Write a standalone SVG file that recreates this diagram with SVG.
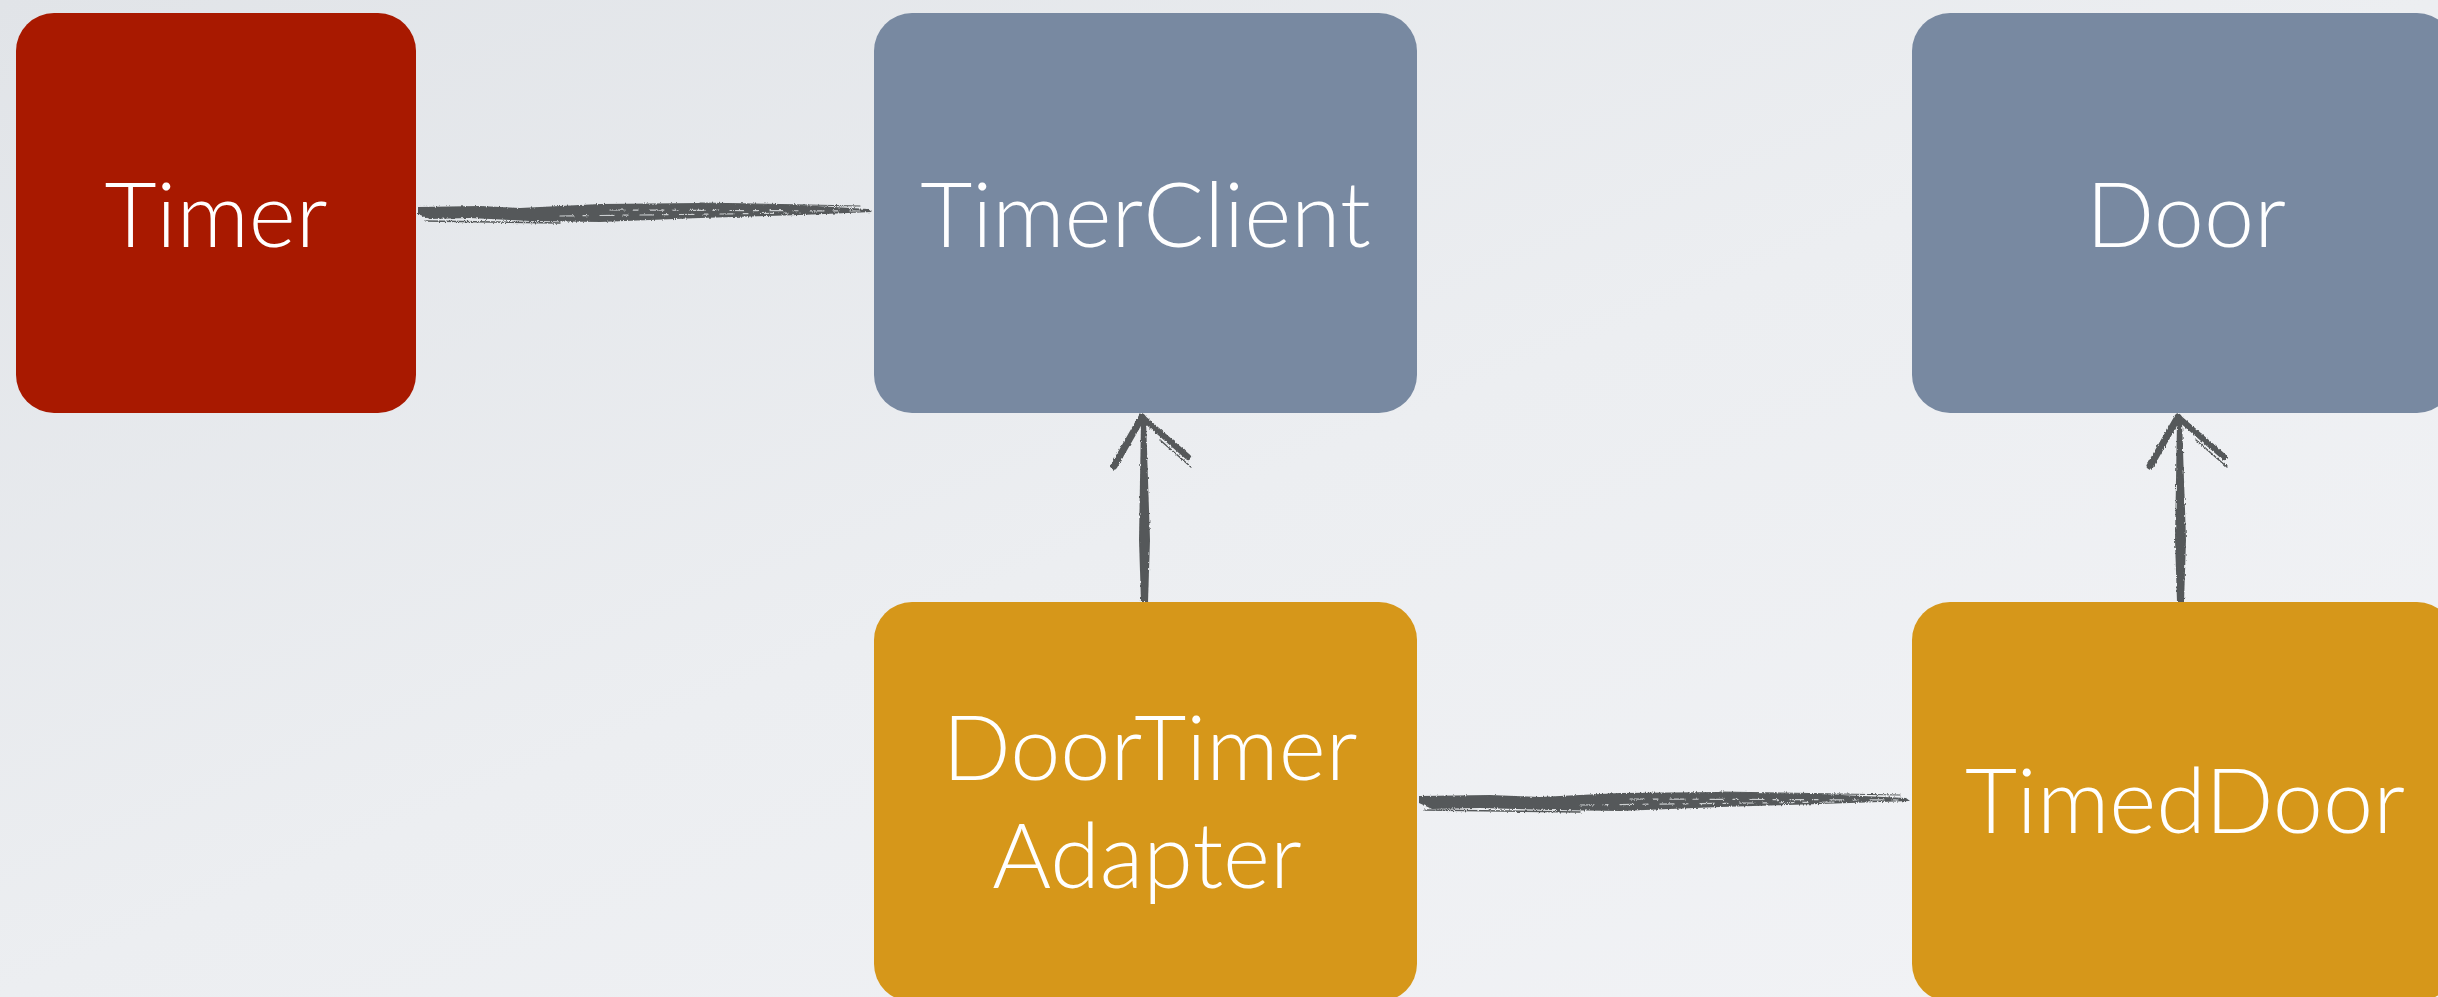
<svg xmlns="http://www.w3.org/2000/svg" width="2438" height="997" viewBox="0 0 2438 997">
  <defs>
    <linearGradient id="bg" x1="0" y1="0" x2="1" y2="1">
      <stop offset="0" stop-color="#e1e4e8"/>
      <stop offset="0.5" stop-color="#eceef1"/>
      <stop offset="1" stop-color="#f2f3f6"/>
    </linearGradient>
    <filter id="rough" x="-5%" y="-50%" width="110%" height="200%">
      <feTurbulence type="fractalNoise" baseFrequency="0.9 0.25" numOctaves="2" seed="3" result="n"/>
      <feDisplacementMap in="SourceGraphic" in2="n" scale="3" xChannelSelector="R" yChannelSelector="G"/>
    </filter>
    <style>
      .box-red { fill: #a81900; }
      .box-blue { fill: #7889a1; }
      .box-orange { fill: #d6971a; }
      .label { font-family: Lato, "Open Sans", "Liberation Sans", sans-serif; font-weight: 300; font-size: 90px; fill: #ffffff; text-anchor: middle; }
      .brush { fill: #55595a; }
      .streak { fill: none; stroke: #55595a; stroke-linecap: round; }
      .gap { fill: none; stroke: #e9ebee; stroke-linecap: round; stroke-width: 1.2; stroke-dasharray: 14 9 5 12; opacity: 0.8; }
    </style>
  </defs>

  <rect x="0" y="0" width="2438" height="997" fill="url(#bg)"/>

  <g id="connectors" filter="url(#rough)">
    <!-- Timer — TimerClient -->
    <g id="c-timer-timerclient">
      <path class="brush" d="M418,207 L480,206 L520,208 L600,204 L700,203 L800,205 L868,209 L872,212 L800,215 L700,218 L600,222 L530,221 L470,218 L430,219 L418,214 Z"/>
      <path class="streak" stroke-width="1.5" d="M425,221 L560,223"/>
      <path class="streak" stroke-width="1.2" d="M700,203 L860,206"/>
      <path class="gap" d="M610,210 L860,211"/>
      <path class="gap" d="M560,216 L800,213"/>
    </g>
    <!-- DoorTimerAdapter — TimedDoor -->
    <g id="c-adapter-timeddoor">
      <path class="brush" d="M1419,796 L1490,795 L1540,797 L1620,793 L1720,792 L1820,794 L1906,798 L1910,801 L1820,804 L1720,807 L1620,811 L1550,810 L1480,808 L1432,809 L1419,803 Z"/>
      <path class="streak" stroke-width="1.5" d="M1425,810 L1580,812"/>
      <path class="streak" stroke-width="1.2" d="M1720,792 L1900,795"/>
      <path class="gap" d="M1630,799 L1900,800"/>
      <path class="gap" d="M1580,805 L1840,802"/>
    </g>
    <!-- DoorTimerAdapter -> TimerClient (inheritance) -->
    <g id="c-adapter-timerclient">
      <path class="brush" d="M1141,421 L1146,420 L1148,480 L1150,540 L1148,602 L1141,602 L1139,540 L1140,480 Z"/>
      <path class="streak" stroke-width="7" d="M1142,417 L1114,466"/>
      <path class="streak" stroke-width="6" d="M1143,418 L1188,457"/>
      <path class="streak" stroke-width="1.5" d="M1160,440 L1191,467"/>
    </g>
    <!-- TimedDoor -> Door (inheritance) -->
    <g id="c-timeddoor-door">
      <path class="brush" d="M2177,421 L2182,420 L2184,480 L2186,540 L2184,602 L2177,602 L2175,540 L2176,480 Z"/>
      <path class="streak" stroke-width="7" d="M2178,417 L2150,466"/>
      <path class="streak" stroke-width="6" d="M2179,418 L2224,457"/>
      <path class="streak" stroke-width="1.5" d="M2196,440 L2227,467"/>
    </g>
  </g>

  <g id="node-timer">
    <rect class="box-red" x="16" y="13" width="400" height="400" rx="38"/>
    <text class="label" x="216" y="247">Timer</text>
  </g>
  <g id="node-timerclient">
    <rect class="box-blue" x="874" y="13" width="543" height="400" rx="38"/>
    <text class="label" x="1145.5" y="247">TimerClient</text>
  </g>
  <g id="node-door">
    <rect class="box-blue" x="1912" y="13" width="543" height="400" rx="38"/>
    <text class="label" x="2186" y="247">Door</text>
  </g>
  <g id="node-doortimeradapter">
    <rect class="box-orange" x="874" y="602" width="543" height="400" rx="38"/>
    <text class="label" x="1150" y="780">DoorTimer</text>
    <text class="label" x="1147" y="888">Adapter</text>
  </g>
  <g id="node-timeddoor">
    <rect class="box-orange" x="1912" y="602" width="543" height="400" rx="38"/>
    <text class="label" x="2185" y="833">TimedDoor</text>
  </g>
</svg>
